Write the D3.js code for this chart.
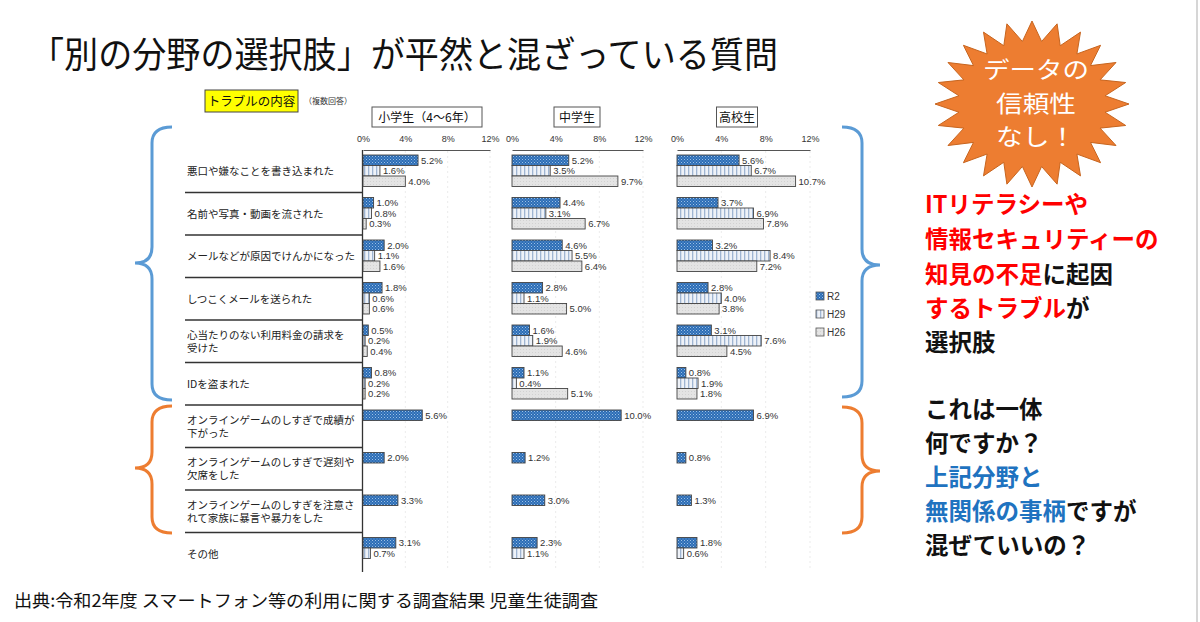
<!DOCTYPE html>
<html><head><meta charset="utf-8">
<script src="https://cdn.jsdelivr.net/npm/d3@7"></script>
<style>body{margin:0;background:#fff}svg{display:block}</style>
</head><body><svg id="c" width="1200" height="622"></svg>
<script>
// ---------- data ----------
const categories = [
  "悪口や嫌なことを書き込まれた",
  "名前や写真・動画を流された",
  "メールなどが原因でけんかになった",
  "しつこくメールを送られた",
  "心当たりのない利用料金の請求を受けた",
  "IDを盗まれた",
  "オンラインゲームのしすぎで成績が下がった",
  "オンラインゲームのしすぎで遅刻や欠席をした",
  "オンラインゲームのしすぎを注意されて家族に暴言や暴力をした",
  "その他"
];
const categoryLines = [
  ["悪口や嫌なことを書き込まれた"],
  ["名前や写真・動画を流された"],
  ["メールなどが原因でけんかになった"],
  ["しつこくメールを送られた"],
  ["心当たりのない利用料金の請求を", "受けた"],
  ["IDを盗まれた"],
  ["オンラインゲームのしすぎで成績が", "下がった"],
  ["オンラインゲームのしすぎで遅刻や", "欠席をした"],
  ["オンラインゲームのしすぎを注意さ", "れて家族に暴言や暴力をした"],
  ["その他"]
];
const groups = ["小学生（4～6年）", "中学生", "高校生"];
const seriesNames = ["R2", "H29", "H26"];
const tickValues = [0, 4, 8, 12];

const elemR2  = [5.2, 1.0, 2.0, 1.8, 0.5, 0.8, 5.6, 2.0, 3.3, 3.1];
const elemH29 = [1.6, 0.8, 1.1, 0.6, 0.2, 0.2, null, null, null, 0.7];
const elemH26 = [4.0, 0.3, 1.6, 0.6, 0.4, 0.2, null, null, null, null];

const juniorR2  = [5.2, 4.4, 4.6, 2.8, 1.6, 1.1, 10.0, 1.2, 3.0, 2.3];
const juniorH29 = [3.5, 3.1, 5.5, 1.1, 1.9, 0.4, null, null, null, 1.1];
const juniorH26 = [9.7, 6.7, 6.4, 5.0, 4.6, 5.1, null, null, null, null];

const highR2  = [5.6, 3.7, 3.2, 2.8, 3.1, 0.8, 6.9, 0.8, 1.3, 1.8];
const highH29 = [6.7, 6.9, 8.4, 4.0, 7.6, 1.9, null, null, null, 0.6];
const highH26 = [10.7, 7.8, 7.2, 3.8, 4.5, 1.8, null, null, null, null];

const groupSeries = [
  [elemR2, elemH29, elemH26],
  [juniorR2, juniorH29, juniorH26],
  [highR2, highH29, highH26]
];

const titleText = "「別の分野の選択肢」が平然と混ざっている質問";
const sourceText = "出典:令和2年度 スマートフォン等の利用に関する調査結果 児童生徒調査";
const burstLines = ["データの", "信頼性", "なし！"];

// ---------- drawing ----------
const svg = d3.select("#c");
const JP = "'Noto Sans CJK JP','Noto Sans',sans-serif";
const NUM = "'Liberation Sans',Arial,sans-serif";

svg.append("rect").attr("width",1200).attr("height",622).attr("fill","#fff");
svg.append("line").attr("x1",1197).attr("x2",1197).attr("y1",0).attr("y2",622)
  .attr("stroke","#c8c8c8").attr("stroke-width",1.5);

// patterns
const defs = svg.append("defs");
const pR2 = defs.append("pattern").attr("id","pR2").attr("width",3).attr("height",3)
  .attr("patternUnits","userSpaceOnUse");
pR2.append("rect").attr("width",3).attr("height",3).attr("fill","#2c6db5");
pR2.append("rect").attr("x",0).attr("y",0).attr("width",1).attr("height",1).attr("fill","#9cc0e6");
pR2.append("rect").attr("x",1.5).attr("y",1.5).attr("width",1).attr("height",1).attr("fill","#7aa9dc");
const pH29 = defs.append("pattern").attr("id","pH29").attr("width",4).attr("height",4)
  .attr("patternUnits","userSpaceOnUse");
pH29.append("rect").attr("width",4).attr("height",4).attr("fill","#eef2f8");
pH29.append("rect").attr("x",0).attr("width",1.3).attr("height",4).attr("fill","#9fb5d2");
const pH26 = defs.append("pattern").attr("id","pH26").attr("width",3).attr("height",3)
  .attr("patternUnits","userSpaceOnUse");
pH26.append("rect").attr("width",3).attr("height",3).attr("fill","#e4e4e4");
pH26.append("rect").attr("x",1).attr("y",1).attr("width",1).attr("height",1).attr("fill","#d2d2d2");
const fills = ["url(#pR2)","url(#pH29)","url(#pH26)"];

// title
svg.append("text").attr("x",30).attr("y",68).attr("font-family",JP).attr("font-size",36)
  .attr("textLength",748).attr("lengthAdjust","spacingAndGlyphs")
  .attr("fill","#111").text(titleText);

// source
svg.append("text").attr("x",14).attr("y",607).attr("font-family",JP).attr("font-size",17.5)
  .attr("textLength",584).attr("lengthAdjust","spacingAndGlyphs")
  .attr("fill","#111").text(sourceText);

// header box
svg.append("rect").attr("x",205).attr("y",90).attr("width",93).attr("height",22)
  .attr("fill","#ffff00").attr("stroke","#444").attr("stroke-width",1);
svg.append("text").attr("x",251.5).attr("y",105.5).attr("text-anchor","middle")
  .attr("font-family",JP).attr("font-size",12.5).attr("fill","#111").text("トラブルの内容");
svg.append("text").attr("x",304).attr("y",104).attr("font-family",JP).attr("font-size",8)
  .attr("fill","#333").text("（複数回答）");

// row scale
const y = d3.scaleBand().domain(categories).range([150, 575]).padding(0);
const barH = 10.5, barOff = 5;

// label column
const lab = svg.append("g");
lab.append("line").attr("x1",362.5).attr("x2",362.5).attr("y1",150).attr("y2",572)
  .attr("stroke","#333").attr("stroke-width",1.3);
categories.forEach((c,i)=>{
  if(i>0){
    lab.append("line").attr("x1",185).attr("x2",362).attr("y1",y(c)).attr("y2",y(c))
      .attr("stroke","#333").attr("stroke-width",1.3);
  }
  const lines = categoryLines[i];
  const cy = y(c) + y.bandwidth()/2;
  const lh = 13;
  lines.forEach((t,j)=>{
    lab.append("text").attr("x",187).attr("y", cy + (j - (lines.length-1)/2)*lh + 4)
      .attr("font-family",JP).attr("font-size",10.5).attr("fill","#222").text(t);
  });
});

// panels
const panels = [
  {x0:363, x1:490, boxW:110, cx:427},
  {x0:512, x1:643, boxW:46, cx:577},
  {x0:677, x1:810, boxW:41, cx:737}
];
panels.forEach((p,gi)=>{
  const x = d3.scaleLinear().domain([0,12]).range([p.x0,p.x1]);
  const g = svg.append("g");
  g.append("rect").attr("x",p.cx-p.boxW/2).attr("y",107).attr("width",p.boxW).attr("height",20)
    .attr("fill","#fff").attr("stroke","#555").attr("stroke-width",1);
  g.append("text").attr("x",p.cx).attr("y",122).attr("text-anchor","middle")
    .attr("font-family",JP).attr("font-size",12).attr("fill","#111").text(groups[gi]);
  // grid
  g.selectAll(".grid").data(tickValues.slice(1)).join("line")
    .attr("x1",d=>x(d)).attr("x2",d=>x(d)).attr("y1",151).attr("y2",570)
    .attr("stroke","#e6e6e6").attr("stroke-width",0.8).attr("stroke-dasharray","2,3");
  // axis
  const ax = d3.axisTop(x).tickValues(tickValues).tickFormat(d=>d+"%").tickSize(0).tickPadding(8);
  const axg = g.append("g").attr("transform","translate(0,150)").call(ax);
  axg.select(".domain").attr("stroke","#555").attr("stroke-width",1.2);
  axg.selectAll("text").attr("font-family",NUM).attr("font-size",9).attr("fill","#333");
  // bars
  groupSeries[gi].forEach((vals,si)=>{
    vals.forEach((v,ci)=>{
      if(v===null) return;
      const by = y(categories[ci]) + barOff + si*barH;
      g.append("rect").attr("x",x(0)).attr("y",by).attr("width",x(v)-x(0)).attr("height",barH)
        .attr("fill",fills[si]).attr("stroke","#444").attr("stroke-width",0.9);
      g.append("text").attr("x",x(v)+3).attr("y",by+barH/2+3.5)
        .attr("font-family",NUM).attr("font-size",9.5).attr("fill","#333")
        .text(v.toFixed(1)+"%");
    });
  });
});

// legend
const leg = svg.append("g");
seriesNames.forEach((s,i)=>{
  const ly = 292 + i*18;
  leg.append("rect").attr("x",816).attr("y",ly).attr("width",8).attr("height",8)
    .attr("fill",fills[i]).attr("stroke","#555").attr("stroke-width",0.8);
  leg.append("text").attr("x",827).attr("y",ly+8).attr("font-family",NUM).attr("font-size",10)
    .attr("fill","#333").text(s);
});

// braces
function brace(xEnd, xLine, xTip, y0, y1, yMid, r){
  return `M${xEnd},${y0} Q${xLine},${y0} ${xLine},${y0+r} L${xLine},${yMid-r} Q${xLine},${yMid} ${xTip},${yMid}`+
         ` Q${xLine},${yMid} ${xLine},${yMid+r} L${xLine},${y1-r} Q${xLine},${y1} ${xEnd},${y1}`;
}
const blue = "#5b9bd5", orange = "#ed7d31";
[[172,152,135,127,400,263,blue],[172,152,135,406,533,468,orange],
 [842,862,880,127,397,265,blue],[842,862,880,407,533,471,orange]].forEach(b=>{
  svg.append("path").attr("d",brace(b[0],b[1],b[2],b[3],b[4],b[5],16))
    .attr("fill","none").attr("stroke",b[6]).attr("stroke-width",3);
});

// starburst
const N = 24, cxB = 1032, cyB = 104, rx = 97, ry = 83, inner = 0.76;
const pts = d3.range(2*N).map(i=>{
  const a = -Math.PI/2 + i*Math.PI/N;
  const k = i%2===0 ? 1 : inner;
  return [cxB + Math.cos(a)*rx*k, cyB + Math.sin(a)*ry*k];
});
svg.append("path").attr("d","M"+pts.map(p=>p.join(",")).join("L")+"Z")
  .attr("fill","#ed7d31").attr("stroke","#c7651f").attr("stroke-width",1);
const burstW = [106, 80, 80];
burstLines.forEach((t,i)=>{
  svg.append("text").attr("x",1036).attr("y",78+i*33.5).attr("text-anchor","middle")
    .attr("font-family",JP).attr("font-size",23)
    .attr("textLength",burstW[i]).attr("lengthAdjust","spacingAndGlyphs")
    .attr("fill","#fff").text(t);
});

// right notes
const red = "#ff0000", blu = "#1f73c0", blk = "#111";
const notes = [
  [205, [["ITリテラシーや",red]]],
  [240, [["情報セキュリティーの",red]]],
  [275, [["知見の不足",red],["に起因",blk]]],
  [309, [["するトラブル",red],["が",blk]]],
  [343, [["選択肢",blk]]],
  [410, [["これは一体",blk]]],
  [444, [["何ですか？",blk]]],
  [478, [["上記分野と",blu]]],
  [512, [["無関係の事柄",blu],["ですが",blk]]],
  [546, [["混ぜていいの？",blk]]]
];
notes.forEach(([cy,parts])=>{
  const t = svg.append("text").attr("x",925).attr("y",cy+8).attr("font-family",JP)
    .attr("font-size",23.5).attr("font-weight",700);
  parts.forEach(([s,c])=>t.append("tspan").attr("fill",c).text(s));
});
</script></body></html>
